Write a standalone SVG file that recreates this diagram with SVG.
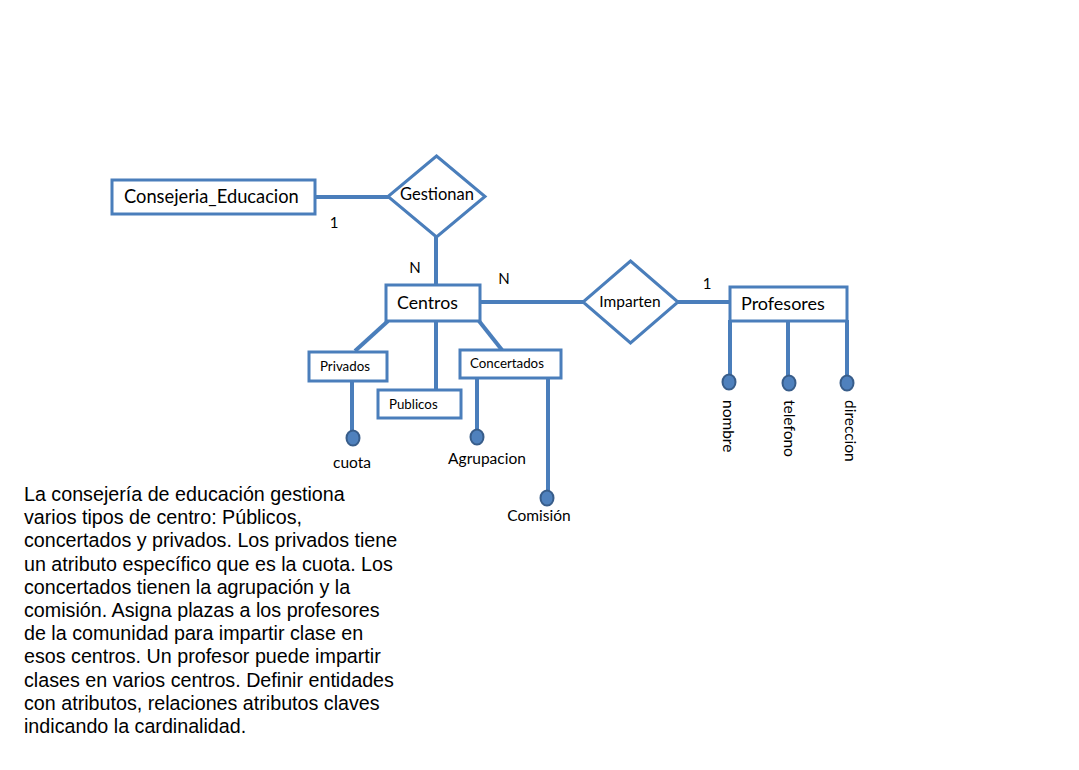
<svg xmlns="http://www.w3.org/2000/svg" width="1079" height="770" viewBox="0 0 1079 770">
<style>
.ent{fill:#fff;stroke:#4A7EBB;stroke-width:3}
.rel{fill:#fff;stroke:#4A7EBB;stroke-width:3}
.ln{stroke:#4A7EBB;stroke-width:4;fill:none}
.att{fill:#4F81BD;stroke:#385D8A;stroke-width:2}
.t{font-family:Lato,"Open Sans",sans-serif;fill:#000}
.d{font-family:"Liberation Sans",Arial,sans-serif;font-size:19.7px;fill:#000}
</style>
<rect width="1079" height="770" fill="#fff"/>
<g id="connectors">
<line class="ln" x1="315" y1="197" x2="389" y2="197"/>
<line class="ln" x1="436" y1="237" x2="436" y2="286"/>
<line class="ln" x1="480" y1="302" x2="584" y2="302"/>
<line class="ln" x1="677" y1="302" x2="731" y2="302"/>
<line class="ln" x1="388" y1="321" x2="355" y2="351"/>
<line class="ln" x1="436" y1="321" x2="436" y2="391"/>
<line class="ln" x1="479" y1="321" x2="502" y2="350"/>
<line class="ln" x1="352" y1="381" x2="352" y2="435"/>
<line class="ln" x1="477" y1="378" x2="477" y2="435"/>
<line class="ln" x1="548" y1="378" x2="548" y2="495"/>
<line class="ln" x1="730" y1="320" x2="730" y2="380"/>
<line class="ln" x1="788" y1="320" x2="788" y2="380"/>
<line class="ln" x1="847" y1="320" x2="847" y2="380"/>
</g>
<g id="consejeria">
<rect class="ent" x="112" y="180" width="203" height="34"/>
<text class="t" x="124" y="203" font-size="18.3">Consejeria_Educacion</text>
</g>
<g id="gestionan">
<polygon class="rel" points="436.5,156 485,196.5 436.5,237 388,196.5"/>
<text class="t" x="437" y="200" font-size="16.5" text-anchor="middle">Gestionan</text>
</g>
<g id="card-labels">
<text class="t" x="334" y="228" font-size="15" text-anchor="middle">1</text>
<text class="t" x="415" y="273" font-size="15" text-anchor="middle">N</text>
<text class="t" x="504" y="284" font-size="15" text-anchor="middle">N</text>
<text class="t" x="707" y="289" font-size="15" text-anchor="middle">1</text>
</g>
<g id="centros">
<rect class="ent" x="386" y="285" width="94" height="36"/>
<text class="t" x="397" y="309" font-size="17.7">Centros</text>
</g>
<g id="imparten">
<polygon class="rel" points="630.5,261 678,302 630.5,343 583,302"/>
<text class="t" x="630" y="307" font-size="15.5" text-anchor="middle">Imparten</text>
</g>
<g id="profesores">
<rect class="ent" x="730" y="287" width="117" height="34"/>
<text class="t" x="741" y="310" font-size="18">Profesores</text>
</g>
<g id="privados">
<rect class="ent" x="309" y="352" width="78" height="29"/>
<text class="t" x="320" y="371" font-size="13.3">Privados</text>
</g>
<g id="publicos">
<rect class="ent" x="378" y="390" width="83" height="28"/>
<text class="t" x="389" y="409" font-size="13.3">Publicos</text>
</g>
<g id="concertados">
<rect class="ent" x="460" y="350" width="101" height="28"/>
<text class="t" x="470" y="368" font-size="13.3">Concertados</text>
</g>
<g id="attr-cuota">
<ellipse class="att" cx="353" cy="438" rx="6.5" ry="7.5"/>
<text class="t" x="352" y="468" font-size="15.5" text-anchor="middle">cuota</text>
</g>
<g id="attr-agrupacion">
<ellipse class="att" cx="477" cy="437" rx="6.5" ry="7.5"/>
<text class="t" x="487" y="464" font-size="15.5" text-anchor="middle">Agrupacion</text>
</g>
<g id="attr-comision">
<ellipse class="att" cx="547" cy="498" rx="6.5" ry="7.5"/>
<text class="t" x="539" y="521" font-size="15.5" text-anchor="middle">Comisión</text>
</g>
<g id="attr-nombre">
<ellipse class="att" cx="729" cy="382" rx="6.5" ry="7.5"/>
<text class="t" font-size="15.5" transform="translate(723,400) rotate(90)">nombre</text>
</g>
<g id="attr-telefono">
<ellipse class="att" cx="789" cy="383" rx="6.5" ry="7.5"/>
<text class="t" font-size="15.5" transform="translate(784,400) rotate(90)">telefono</text>
</g>
<g id="attr-direccion">
<ellipse class="att" cx="847" cy="383" rx="6.5" ry="7.5"/>
<text class="t" font-size="15.5" transform="translate(845,400) rotate(90)">direccion</text>
</g>
<g id="description">
<text class="d">
<tspan x="24" y="501">La consejería de educación gestiona</tspan>
<tspan x="24" y="524.2">varios tipos de centro: Públicos,</tspan>
<tspan x="24" y="547.4">concertados y privados. Los privados tiene</tspan>
<tspan x="24" y="570.6">un atributo específico que es la cuota. Los</tspan>
<tspan x="24" y="593.8">concertados tienen la agrupación y la</tspan>
<tspan x="24" y="617">comisión. Asigna plazas a los profesores</tspan>
<tspan x="24" y="640.2">de la comunidad para impartir clase en</tspan>
<tspan x="24" y="663.4">esos centros. Un profesor puede impartir</tspan>
<tspan x="24" y="686.6">clases en varios centros. Definir entidades</tspan>
<tspan x="24" y="709.8">con atributos, relaciones atributos claves</tspan>
<tspan x="24" y="733">indicando la cardinalidad.</tspan>
</text>
</g>
</svg>
